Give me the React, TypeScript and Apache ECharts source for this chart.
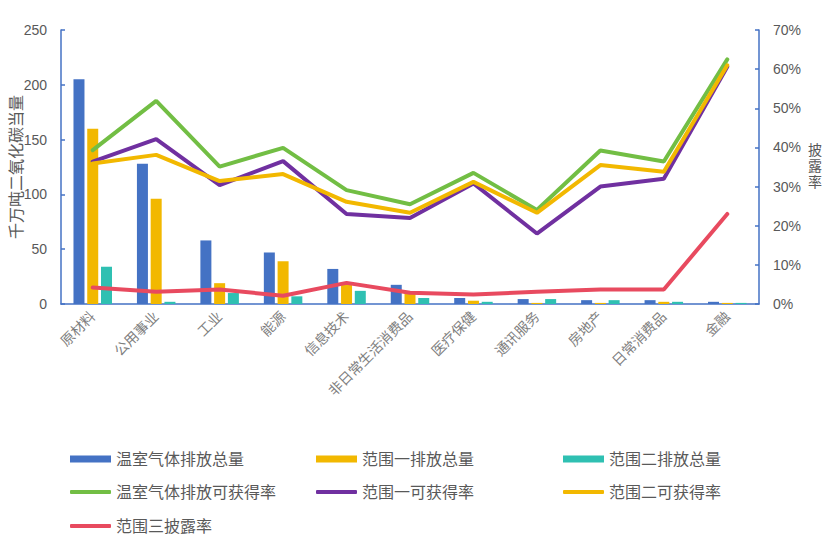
import React, { useEffect, useRef } from "react";
import * as echarts from "echarts";

const categories = ["原材料", "公用事业", "工业", "能源", "信息技术", "非日常生活消费品", "医疗保健", "通讯服务", "房地产", "日常消费品", "金融"];
const ghgTotal = [205, 128, 58, 47, 32, 17.5, 5.5, 4.5, 3.5, 3.5, 2];
const scope1Total = [160, 96, 19, 39, 20, 10, 3, 1, 1, 2, 1];
const scope2Total = [34, 2, 10, 7, 12, 5.5, 2, 4.5, 3.5, 2, 1];
const ghgRate = [39.3, 51.9, 35.1, 39.9, 29.1, 25.5, 33.5, 24.0, 39.2, 36.4, 62.5];
const scope1Rate = [36.4, 42.1, 30.4, 36.5, 23.0, 22.0, 30.8, 18.0, 30.0, 32.0, 60.6];
const scope2Rate = [35.9, 38.1, 31.4, 33.2, 26.1, 23.3, 31.2, 23.3, 35.5, 33.8, 61.0];
const scope3Rate = [4.2, 3.1, 3.7, 2.1, 5.4, 2.9, 2.4, 3.1, 3.7, 3.7, 23.0];

const leftTicks = [0, 50, 100, 150, 200, 250];
const rightTicks = [0, 10, 20, 30, 40, 50, 60, 70];

const FONT = "'Liberation Sans', 'Noto Sans CJK SC', sans-serif";
const TEXT = "#595959";
const AXIS = "#4472C4";

export default function App() {
  const ref = useRef<HTMLDivElement>(null);
  useEffect(() => {
    if (!ref.current) return;
    const chart = echarts.init(ref.current, null, { renderer: "svg" });
    const legendItem = (name: string, left: number, top: number, icon: string, h: number) => ({
      data: [name],
      left,
      top: top - 9,
      padding: 0,
      icon,
      itemWidth: 41,
      itemHeight: h,
      itemGap: 0,
      textStyle: { fontSize: 16, color: TEXT, fontFamily: FONT },
    });
    chart.setOption({
      animation: false,
      textStyle: { fontFamily: FONT },
      grid: { left: 61, right: 78, top: 30, bottom: 255, containLabel: false, outerBoundsMode: "none" },
      legend: [
        legendItem("温室气体排放总量", 70, 460, "rect", 7),
        legendItem("范围一排放总量", 316, 460, "rect", 7),
        legendItem("范围二排放总量", 563, 460, "rect", 7),
        legendItem("温室气体排放可获得率", 70, 493, "roundRect", 4),
        legendItem("范围一可获得率", 316, 493, "roundRect", 4),
        legendItem("范围二可获得率", 563, 493, "roundRect", 4),
        legendItem("范围三披露率", 70, 527, "roundRect", 4),
      ],
      graphic: [
        {
          type: "text",
          x: 815,
          y: 166,
          style: {
            text: "披\n露\n率",
            fontSize: 14,
            lineHeight: 16,
            fill: TEXT,
            fontFamily: FONT,
            align: "center",
            verticalAlign: "middle",
          },
        },
      ],
      xAxis: {
        type: "category",
        data: categories,
        axisLine: { lineStyle: { color: AXIS, width: 1.5 } },
        axisTick: { show: false },
        axisLabel: { rotate: 45, fontSize: 14, color: "#7f7f7f", margin: 10, interval: 0, fontFamily: FONT },
      },
      yAxis: [
        {
          type: "value",
          min: leftTicks[0],
          max: leftTicks[leftTicks.length - 1],
          interval: 50,
          name: "千万吨二氧化碳当量",
          nameLocation: "middle",
          nameRotate: 90,
          nameGap: 37,
          nameMoveOverlap: false,
          nameTextStyle: { fontSize: 16, color: TEXT, fontFamily: FONT },
          axisLine: { show: true, lineStyle: { color: AXIS, width: 1.5 } },
          axisTick: { show: true, inside: true, length: 4, lineStyle: { color: AXIS, width: 1.5 } },
          axisLabel: { fontSize: 14, color: TEXT, margin: 14, fontFamily: FONT },
          splitLine: { show: false },
        },
        {
          type: "value",
          min: rightTicks[0],
          max: rightTicks[rightTicks.length - 1],
          interval: 10,
          position: "right",
          axisLine: { show: true, lineStyle: { color: AXIS, width: 1.5 } },
          axisTick: { show: true, inside: true, length: 4, lineStyle: { color: AXIS, width: 1.5 } },
          axisLabel: { fontSize: 14, color: TEXT, margin: 14, formatter: "{value}%", fontFamily: FONT },
          splitLine: { show: false },
        },
      ],
      series: [
        { name: "温室气体排放总量", type: "bar", data: ghgTotal, barWidth: 11, barGap: "25%", itemStyle: { color: "#4472C4" } },
        { name: "范围一排放总量", type: "bar", data: scope1Total, barWidth: 11, barGap: "25%", itemStyle: { color: "#F2B800" } },
        { name: "范围二排放总量", type: "bar", data: scope2Total, barWidth: 11, barGap: "25%", itemStyle: { color: "#2FC0B2" } },
        { name: "温室气体排放可获得率", type: "line", yAxisIndex: 1, data: ghgRate, symbol: "none", lineStyle: { width: 4, color: "#72BE44", cap: "round" }, itemStyle: { color: "#72BE44" } },
        { name: "范围一可获得率", type: "line", yAxisIndex: 1, data: scope1Rate, symbol: "none", lineStyle: { width: 4, color: "#7030A0", cap: "round" }, itemStyle: { color: "#7030A0" } },
        { name: "范围二可获得率", type: "line", yAxisIndex: 1, data: scope2Rate, symbol: "none", lineStyle: { width: 4, color: "#F2B800", cap: "round" }, itemStyle: { color: "#F2B800" } },
        { name: "范围三披露率", type: "line", yAxisIndex: 1, data: scope3Rate, symbol: "none", lineStyle: { width: 4, color: "#E84A5F", cap: "round" }, itemStyle: { color: "#E84A5F" } },
      ],
    });
    return () => chart.dispose();
  }, []);
  return <div ref={ref} style={{ position: "fixed", left: 0, top: 0, width: 837, height: 559, background: "#fff" }} />;
}
